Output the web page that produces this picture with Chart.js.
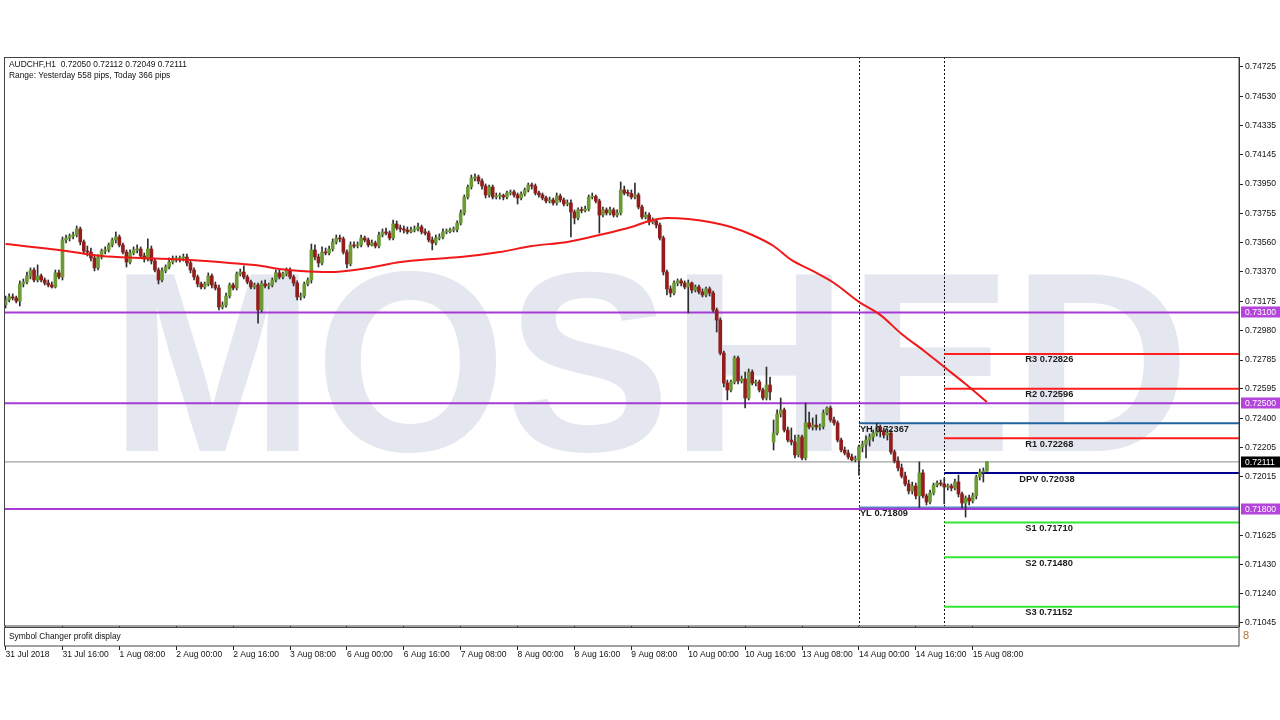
<!DOCTYPE html>
<html>
<head>
<meta charset="utf-8">
<title>AUDCHF,H1</title>
<script src="https://cdn.jsdelivr.net/npm/chart.js@4.4.1/dist/chart.umd.min.js"></script>
<style>
  html, body { margin: 0; padding: 0; background: #fff; }
  canvas { display: block; }
</style>
</head>
<body>
<canvas id="mt4Chart" width="1280" height="720"></canvas>
<script>
// AUDCHF H1, 31 Jul 2018 00:00 -> 15 Aug 2018 12:00 (one value per hourly bar)
const opens = [
  0.73150,0.73183,0.73203,0.73196,0.73176,0.73289,0.73302,0.73342,0.73381,0.73315,0.73342,0.73315,0.73295,0.73282,0.73269,0.73362,
  0.73335,0.73580,0.73593,0.73606,0.73613,0.73653,0.73567,0.73507,0.73500,0.73461,0.73395,0.73467,0.73507,0.73514,0.73547,0.73580,
  0.73600,0.73547,0.73500,0.73434,0.73494,0.73514,0.73520,0.73474,0.73454,0.73520,0.73441,0.73381,0.73315,0.73375,0.73401,0.73434,
  0.73454,0.73454,0.73461,0.73467,0.73428,0.73381,0.73335,0.73289,0.73269,0.73289,0.73342,0.73282,0.73262,0.73136,0.73150,0.73209,
  0.73282,0.73262,0.73355,0.73368,0.73335,0.73302,0.73269,0.73282,0.73117,0.73289,0.73276,0.73282,0.73315,0.73362,0.73335,0.73355,
  0.73381,0.73335,0.73295,0.73203,0.73209,0.73289,0.73315,0.73514,0.73467,0.73428,0.73500,0.73494,0.73520,0.73567,0.73593,0.73587,
  0.73500,0.73421,0.73547,0.73540,0.73547,0.73593,0.73580,0.73547,0.73560,0.73540,0.73613,0.73633,0.73626,0.73593,0.73686,0.73659,
  0.73653,0.73646,0.73633,0.73646,0.73653,0.73666,0.73633,0.73626,0.73580,0.73560,0.73593,0.73600,0.73633,0.73636,0.73646,0.73650,
  0.73692,0.73759,0.73864,0.73931,0.73990,0.73997,0.73970,0.73937,0.73878,0.73931,0.73864,0.73871,0.73875,0.73864,0.73891,0.73898,
  0.73878,0.73858,0.73884,0.73911,0.73944,0.73937,0.73891,0.73878,0.73858,0.73838,0.73845,0.73825,0.73871,0.73845,0.73818,0.73825,
  0.73765,0.73726,0.73779,0.73775,0.73785,0.73864,0.73868,0.73838,0.73745,0.73779,0.73759,0.73779,0.73745,0.73759,0.73911,0.73891,
  0.73888,0.73864,0.73878,0.73798,0.73732,0.73745,0.73699,0.73706,0.73679,0.73593,0.73368,0.73256,0.73229,0.73295,0.73309,0.73295,
  0.73269,0.73295,0.73249,0.73269,0.73236,0.73216,0.73256,0.73229,0.73117,0.73050,0.72832,0.72633,0.72587,0.72640,0.72799,0.72647,
  0.72660,0.72534,0.72706,0.72633,0.72640,0.72587,0.72534,0.72620,0.72243,0.72302,0.72428,0.72455,0.72322,0.72256,0.72243,0.72157,
  0.72276,0.72137,0.72369,0.72342,0.72355,0.72342,0.72345,0.72435,0.72468,0.72389,0.72369,0.72256,0.72190,0.72170,0.72144,0.72124,
  0.72124,0.72210,0.72229,0.72256,0.72276,0.72302,0.72342,0.72316,0.72289,0.72302,0.72177,0.72117,0.72071,0.72018,0.71965,0.71919,
  0.71952,0.71886,0.72038,0.71886,0.71846,0.71905,0.71958,0.71971,0.71965,0.71945,0.71952,0.71938,0.71978,0.71899,0.71839,0.71872,
  0.71852,0.71886,0.72011,0.72044,0.72050
];
const highs = [
  0.73209,0.73223,0.73223,0.73209,0.73309,0.73322,0.73368,0.73395,0.73395,0.73415,0.73355,0.73329,0.73315,0.73302,0.73381,0.73381,
  0.73600,0.73613,0.73620,0.73633,0.73673,0.73666,0.73580,0.73540,0.73527,0.73481,0.73481,0.73520,0.73534,0.73560,0.73593,0.73633,
  0.73613,0.73560,0.73514,0.73514,0.73534,0.73547,0.73534,0.73494,0.73587,0.73540,0.73454,0.73395,0.73395,0.73415,0.73461,0.73474,
  0.73474,0.73474,0.73487,0.73487,0.73441,0.73395,0.73348,0.73302,0.73302,0.73362,0.73355,0.73302,0.73282,0.73170,0.73229,0.73295,
  0.73295,0.73368,0.73388,0.73408,0.73348,0.73315,0.73295,0.73295,0.73309,0.73315,0.73295,0.73329,0.73381,0.73381,0.73368,0.73395,
  0.73395,0.73348,0.73309,0.73229,0.73302,0.73329,0.73553,0.73547,0.73487,0.73534,0.73527,0.73540,0.73587,0.73613,0.73613,0.73600,
  0.73514,0.73567,0.73567,0.73567,0.73613,0.73606,0.73593,0.73580,0.73573,0.73633,0.73653,0.73659,0.73640,0.73712,0.73706,0.73679,
  0.73673,0.73666,0.73666,0.73673,0.73692,0.73679,0.73653,0.73640,0.73600,0.73613,0.73620,0.73653,0.73653,0.73659,0.73666,0.73706,
  0.73779,0.73878,0.73944,0.74010,0.74017,0.74010,0.73984,0.73951,0.73944,0.73944,0.73891,0.73891,0.73884,0.73904,0.73911,0.73911,
  0.73891,0.73898,0.73924,0.73957,0.73957,0.73951,0.73904,0.73891,0.73871,0.73864,0.73858,0.73891,0.73884,0.73858,0.73845,0.73845,
  0.73779,0.73792,0.73798,0.73805,0.73878,0.73891,0.73878,0.73851,0.73798,0.73792,0.73798,0.73792,0.73779,0.73964,0.73937,0.73911,
  0.73911,0.73957,0.73891,0.73811,0.73765,0.73759,0.73726,0.73719,0.73692,0.73606,0.73381,0.73276,0.73309,0.73322,0.73322,0.73309,
  0.73315,0.73302,0.73282,0.73282,0.73256,0.73269,0.73269,0.73242,0.73130,0.73064,0.72845,0.72653,0.72653,0.72812,0.72812,0.72680,
  0.72706,0.72726,0.72720,0.72653,0.72653,0.72600,0.72739,0.72673,0.72389,0.72455,0.72534,0.72468,0.72342,0.72336,0.72289,0.72289,
  0.72289,0.72501,0.72441,0.72402,0.72422,0.72362,0.72455,0.72475,0.72481,0.72408,0.72382,0.72269,0.72210,0.72190,0.72163,0.72150,
  0.72223,0.72249,0.72283,0.72296,0.72322,0.72367,0.72355,0.72336,0.72329,0.72322,0.72190,0.72144,0.72097,0.72044,0.71991,0.71978,
  0.71971,0.72111,0.72058,0.71899,0.71925,0.71971,0.71985,0.71991,0.72005,0.71965,0.71965,0.71998,0.72024,0.71912,0.71886,0.71892,
  0.71905,0.72024,0.72064,0.72071,0.72112
];
const lows = [
  0.73130,0.73170,0.73183,0.73163,0.73143,0.73269,0.73289,0.73322,0.73302,0.73302,0.73302,0.73282,0.73269,0.73262,0.73262,0.73322,
  0.73315,0.73560,0.73573,0.73587,0.73600,0.73547,0.73487,0.73474,0.73441,0.73375,0.73381,0.73454,0.73487,0.73500,0.73534,0.73560,
  0.73534,0.73487,0.73401,0.73421,0.73481,0.73494,0.73461,0.73434,0.73441,0.73421,0.73368,0.73289,0.73302,0.73362,0.73388,0.73421,
  0.73434,0.73434,0.73441,0.73408,0.73362,0.73315,0.73269,0.73256,0.73256,0.73276,0.73262,0.73249,0.73117,0.73123,0.73136,0.73196,
  0.73249,0.73249,0.73342,0.73322,0.73289,0.73256,0.73256,0.73030,0.73103,0.73262,0.73256,0.73269,0.73302,0.73322,0.73322,0.73342,
  0.73322,0.73276,0.73183,0.73183,0.73196,0.73276,0.73295,0.73448,0.73401,0.73415,0.73481,0.73481,0.73507,0.73553,0.73567,0.73487,
  0.73395,0.73408,0.73527,0.73527,0.73534,0.73567,0.73534,0.73540,0.73527,0.73527,0.73600,0.73613,0.73580,0.73580,0.73646,0.73633,
  0.73626,0.73620,0.73626,0.73633,0.73640,0.73620,0.73613,0.73567,0.73514,0.73547,0.73580,0.73587,0.73620,0.73626,0.73633,0.73633,
  0.73679,0.73745,0.73851,0.73917,0.73970,0.73951,0.73917,0.73858,0.73864,0.73851,0.73851,0.73851,0.73845,0.73851,0.73878,0.73864,
  0.73818,0.73845,0.73871,0.73898,0.73917,0.73878,0.73864,0.73845,0.73825,0.73825,0.73811,0.73811,0.73831,0.73805,0.73805,0.73600,
  0.73686,0.73712,0.73759,0.73765,0.73772,0.73851,0.73825,0.73626,0.73732,0.73745,0.73745,0.73732,0.73732,0.73745,0.73878,0.73871,
  0.73851,0.73851,0.73785,0.73719,0.73719,0.73679,0.73686,0.73659,0.73580,0.73348,0.73216,0.73203,0.73216,0.73276,0.73276,0.73256,
  0.73097,0.73229,0.73236,0.73223,0.73203,0.73203,0.73209,0.73103,0.72971,0.72819,0.72607,0.72521,0.72574,0.72627,0.72627,0.72633,
  0.72468,0.72521,0.72620,0.72614,0.72574,0.72521,0.72521,0.72521,0.72190,0.72289,0.72408,0.72309,0.72243,0.72223,0.72137,0.72144,
  0.72124,0.72124,0.72329,0.72322,0.72322,0.72322,0.72329,0.72422,0.72375,0.72355,0.72243,0.72177,0.72157,0.72130,0.72117,0.72111,
  0.72024,0.72177,0.72137,0.72216,0.72249,0.72283,0.72276,0.72269,0.72256,0.72163,0.72104,0.72051,0.72005,0.71952,0.71899,0.71899,
  0.71866,0.71809,0.71872,0.71826,0.71833,0.71892,0.71945,0.71952,0.71833,0.71925,0.71919,0.71925,0.71879,0.71806,0.71746,0.71826,
  0.71839,0.71866,0.71991,0.71978,0.72049
];
const closes = [
  0.73183,0.73203,0.73196,0.73176,0.73289,0.73302,0.73342,0.73381,0.73315,0.73342,0.73315,0.73295,0.73282,0.73269,0.73362,0.73335,
  0.73580,0.73593,0.73606,0.73613,0.73653,0.73567,0.73507,0.73500,0.73461,0.73395,0.73467,0.73507,0.73514,0.73547,0.73580,0.73600,
  0.73547,0.73500,0.73434,0.73494,0.73514,0.73520,0.73474,0.73454,0.73520,0.73441,0.73381,0.73315,0.73375,0.73401,0.73434,0.73454,
  0.73456,0.73461,0.73467,0.73428,0.73381,0.73335,0.73289,0.73269,0.73289,0.73342,0.73282,0.73262,0.73136,0.73150,0.73209,0.73282,
  0.73262,0.73355,0.73368,0.73335,0.73302,0.73269,0.73282,0.73117,0.73289,0.73276,0.73282,0.73315,0.73362,0.73335,0.73355,0.73381,
  0.73335,0.73295,0.73203,0.73209,0.73289,0.73315,0.73514,0.73467,0.73428,0.73500,0.73494,0.73520,0.73567,0.73593,0.73587,0.73500,
  0.73421,0.73547,0.73540,0.73547,0.73593,0.73580,0.73547,0.73560,0.73540,0.73613,0.73633,0.73626,0.73593,0.73686,0.73659,0.73653,
  0.73646,0.73633,0.73646,0.73653,0.73666,0.73633,0.73626,0.73580,0.73560,0.73593,0.73600,0.73633,0.73636,0.73646,0.73650,0.73692,
  0.73759,0.73864,0.73931,0.73990,0.73997,0.73970,0.73937,0.73878,0.73931,0.73864,0.73871,0.73875,0.73864,0.73891,0.73898,0.73878,
  0.73858,0.73884,0.73911,0.73944,0.73937,0.73891,0.73878,0.73858,0.73838,0.73845,0.73825,0.73871,0.73845,0.73818,0.73825,0.73765,
  0.73726,0.73779,0.73775,0.73785,0.73864,0.73868,0.73838,0.73745,0.73779,0.73759,0.73779,0.73745,0.73759,0.73911,0.73891,0.73888,
  0.73864,0.73878,0.73798,0.73732,0.73745,0.73699,0.73706,0.73679,0.73593,0.73368,0.73256,0.73229,0.73295,0.73309,0.73295,0.73269,
  0.73295,0.73249,0.73269,0.73236,0.73216,0.73256,0.73229,0.73117,0.73050,0.72832,0.72633,0.72587,0.72640,0.72799,0.72647,0.72660,
  0.72534,0.72706,0.72633,0.72640,0.72587,0.72534,0.72620,0.72574,0.72302,0.72428,0.72455,0.72322,0.72256,0.72243,0.72157,0.72276,
  0.72137,0.72369,0.72342,0.72355,0.72342,0.72345,0.72435,0.72468,0.72389,0.72369,0.72256,0.72190,0.72170,0.72144,0.72124,0.72130,
  0.72210,0.72229,0.72256,0.72276,0.72302,0.72342,0.72316,0.72289,0.72302,0.72177,0.72117,0.72071,0.72018,0.71965,0.71919,0.71952,
  0.71886,0.72038,0.71886,0.71846,0.71905,0.71958,0.71971,0.71965,0.71945,0.71952,0.71938,0.71978,0.71899,0.71839,0.71872,0.71852,
  0.71886,0.72011,0.72044,0.72050,0.72111
];

// red moving average, read at a few bars
const maBars   = [0, 15, 27, 38, 52, 63, 72, 77, 83, 91, 102, 111, 120, 128, 139, 148, 158, 167, 176, 181, 186,
                  192, 198, 204, 210, 216, 221, 227, 233, 240, 246, 252, 258, 264, 270, 276];
const maValues = [0.73553,0.73514,0.73474,0.73461,0.73448,0.73428,0.73408,0.73388,0.73375,0.73368,0.73395,0.73434,
                  0.73454,0.73467,0.73500,0.73540,0.73567,0.73613,0.73666,0.73706,0.73726,0.73719,0.73699,0.73666,
                  0.73613,0.73540,0.73448,0.73375,0.73295,0.73170,0.73084,0.72958,0.72852,0.72739,0.72627,0.72508];

const xTickBars = [0, 16, 32, 48, 64, 80, 96, 112, 128, 144, 160, 176, 192, 208, 224, 240, 256, 272];
const xTickLabels = ['31 Jul 2018', '31 Jul 16:00', '1 Aug 08:00', '2 Aug 00:00', '2 Aug 16:00', '3 Aug 08:00',
                     '6 Aug 00:00', '6 Aug 16:00', '7 Aug 08:00', '8 Aug 00:00', '8 Aug 16:00', '9 Aug 08:00',
                     '10 Aug 00:00', '10 Aug 16:00', '13 Aug 08:00', '14 Aug 00:00', '14 Aug 16:00', '15 Aug 08:00'];
const yTicks = [0.74725, 0.74530, 0.74335, 0.74145, 0.73950, 0.73755, 0.73560, 0.73370, 0.73175, 0.72980,
                0.72785, 0.72595, 0.72400, 0.72205, 0.72015, 0.71625, 0.71430, 0.71240, 0.71045];

const pivotNames  = ['R3', 'R2', 'R1', 'DPV', 'S1', 'S2', 'S3'];
const pivotValues = [0.72826, 0.72596, 0.72268, 0.72038, 0.71710, 0.71480, 0.71152];
const dayNames    = ['YH', 'YL'];
const dayValues   = [0.72367, 0.71809];
const roundLevels = [0.73100, 0.72500, 0.71800];
const lastPrice   = 0.72111;
const separatorBars = [240, 264];   // 14 Aug 00:00, 15 Aug 00:00

const headerLines = ['AUDCHF,H1  0.72050 0.72112 0.72049 0.72111', 'Range: Yesterday 558 pips, Today 366 pips'];
const subWindowTitle = 'Symbol Changer profit display';
const watermark = 'MOSHED';

(function (window) {
    'use strict';

    const Chart = window.Chart;
    if (!Chart) {
        console.error('[mt4] Chart.js missing');
        return;
    }

    const FONT = '"Liberation Sans", Arial, sans-serif';
    const X_MIN = -0.45;
    const X_MAX = 346.9;
    const BULL = '#6c9a34';
    const BEAR = '#931d1d';
    const WICK = '#2e2e2e';
    const PURPLE = '#a63ad6';
    const RED = '#ff1e1e';
    const GREEN = '#33e633';
    const NAVY = '#00008c';
    const STEEL = '#21639e';
    const pivotColors = [RED, RED, RED, NAVY, GREEN, GREEN, GREEN];

    function level(fromX, value, color, width, order) {
        return {
            type: 'line',
            data: [{ x: fromX, y: value }, { x: X_MAX, y: value }],
            borderColor: color,
            borderWidth: width,
            pointRadius: 0,
            tension: 0,
            order: order,
        };
    }

    const barIdx = closes.map(function (c, i) { return i; });

    const datasets = [];
    datasets.push(level(X_MIN, lastPrice, '#8a8a8a', 1, 9));
    datasets.push(level(separatorBars[0], dayValues[0], STEEL, 2, 8));
    datasets.push(level(separatorBars[0], dayValues[1], '#5a86c4', 2, 8));
    roundLevels.forEach(function (v) { datasets.push(level(X_MIN, v, PURPLE, 2, 7)); });
    pivotValues.forEach(function (v, i) { datasets.push(level(separatorBars[1], v, pivotColors[i], 2, 7)); });

    datasets.push({
        type: 'bar',
        data: barIdx.map(function (i) { return { x: i, y: [lows[i], highs[i]] }; }),
        backgroundColor: WICK,
        barThickness: 1,
        grouped: false,
        order: 5,
    });
    datasets.push({
        type: 'bar',
        data: barIdx.map(function (i) { return { x: i, y: [opens[i], closes[i]] }; }),
        backgroundColor: barIdx.map(function (i) { return closes[i] >= opens[i] ? BULL : BEAR; }),
        barThickness: 3,
        minBarLength: 1,
        grouped: false,
        order: 4,
    });
    datasets.push({
        type: 'line',
        data: maBars.map(function (b, i) { return { x: b, y: maValues[i] }; }),
        borderColor: '#f01818',
        borderWidth: 2,
        pointRadius: 0,
        cubicInterpolationMode: 'monotone',
        order: 1,
    });

    const overlay = {
        id: 'mt4Overlay',
        beforeDatasetsDraw: function (chart) {
            const ctx = chart.ctx;
            const a = chart.chartArea;
            const xs = chart.scales.x;
            ctx.save();
            ctx.beginPath();
            ctx.rect(a.left, a.top, a.right - a.left, a.bottom - a.top);
            ctx.clip();
            ctx.fillStyle = '#e4e7ef';
            ctx.font = 'bold 256px ' + FONT;
            ctx.textAlign = 'center';
            ctx.textBaseline = 'alphabetic';
            ctx.fillText(watermark, 650, 451, 1080);

            ctx.strokeStyle = '#111';
            ctx.lineWidth = 1;
            ctx.setLineDash([2, 2]);
            separatorBars.forEach(function (b) {
                const px = Math.round(xs.getPixelForValue(b)) + 0.5;
                ctx.beginPath();
                ctx.moveTo(px, a.top);
                ctx.lineTo(px, a.bottom);
                ctx.stroke();
            });
            ctx.restore();
        },
        afterDatasetsDraw: function (chart) {
            const ctx = chart.ctx;
            const xs = chart.scales.x;
            const ys = chart.scales.y;
            ctx.save();
            ctx.fillStyle = '#1b1b1b';
            ctx.font = 'bold 9.3px ' + FONT;
            ctx.textAlign = 'left';
            ctx.textBaseline = 'middle';
            const pivotX = xs.getPixelForValue(separatorBars[1]);
            pivotNames.forEach(function (name, i) {
                const dx = name === 'DPV' ? 75 : 81;
                ctx.fillText(name + ' ' + pivotValues[i].toFixed(5), pivotX + dx, ys.getPixelForValue(pivotValues[i]) + 6);
            });
            const dayX = xs.getPixelForValue(separatorBars[0]);
            dayNames.forEach(function (name, i) {
                ctx.fillText(name + ' ' + dayValues[i].toFixed(5), dayX + 1, ys.getPixelForValue(dayValues[i]) + 6);
            });
            ctx.restore();
        },
        afterDraw: function (chart) {
            const ctx = chart.ctx;
            const a = chart.chartArea;
            const ys = chart.scales.y;
            ctx.save();

            // sub-window under the price chart
            ctx.fillStyle = '#fff';
            ctx.fillRect(a.left, a.bottom + 1, a.right - a.left, 19);
            ctx.strokeStyle = '#444';
            ctx.lineWidth = 1;
            ctx.strokeRect(a.left + 0.5, a.bottom + 1.5, a.right - a.left - 0.5, 18.5);
            ctx.strokeRect(a.left + 0.5, a.top + 0.5, a.right - a.left - 0.5, a.bottom - a.top - 0.5);

            ctx.fillStyle = '#111';
            ctx.font = '8.4px ' + FONT;
            ctx.textAlign = 'left';
            ctx.textBaseline = 'middle';
            ctx.fillText(subWindowTitle, a.left + 5, a.bottom + 10.5);
            ctx.fillText(headerLines[0], a.left + 5, a.top + 7.5);
            ctx.fillText(headerLines[1], a.left + 5, a.top + 18.5);

            // price tags on the axis
            function tag(value, bg) {
                const py = ys.getPixelForValue(value);
                ctx.fillStyle = bg;
                ctx.fillRect(a.right + 2, Math.round(py) - 5.5, 39, 11);
                ctx.fillStyle = '#fff';
                ctx.font = '8.6px ' + FONT;
                ctx.fillText(value.toFixed(5), a.right + 6, py + 0.5);
            }
            roundLevels.forEach(function (v) { tag(v, '#b444dc'); });
            tag(lastPrice, '#000');

            ctx.fillStyle = '#b8742c';
            ctx.font = '11px ' + FONT;
            ctx.fillText('8', a.right + 4, a.bottom + 10);
            ctx.restore();
        },
    };

    new Chart(document.getElementById('mt4Chart'), {
        type: 'bar',
        data: { datasets: datasets },
        options: {
            responsive: false,
            animation: false,
            devicePixelRatio: 1,
            events: [],
            layout: { padding: { left: 4, top: 57, right: 0, bottom: 0 } },
            plugins: { legend: { display: false }, tooltip: { enabled: false } },
            scales: {
                x: {
                    type: 'linear',
                    min: X_MIN,
                    max: X_MAX,
                    offset: false,
                    grid: { drawOnChartArea: false, drawTicks: true, tickLength: 24, color: '#222', offset: false },
                    border: { display: false },
                    ticks: {
                        align: 'start',
                        padding: 0,
                        autoSkip: false,
                        maxRotation: 0,
                        minRotation: 0,
                        color: '#111',
                        font: { family: FONT, size: 8.5 },
                        callback: function (v, i) { return xTickLabels[i]; },
                    },
                    afterBuildTicks: function (s) { s.ticks = xTickBars.map(function (v) { return { value: v }; }); },
                    afterFit: function (s) { s.height = 94; },
                },
                y: {
                    type: 'linear',
                    position: 'right',
                    min: 0.71025,
                    max: 0.74791,
                    grid: { drawOnChartArea: false, drawTicks: true, tickLength: 4, color: '#222' },
                    border: { display: true, color: '#222' },
                    ticks: {
                        padding: 2,
                        autoSkip: false,
                        color: '#111',
                        font: { family: FONT, size: 8.6 },
                        callback: function (v) { return Number(v).toFixed(5); },
                    },
                    afterBuildTicks: function (s) { s.ticks = yTicks.map(function (v) { return { value: v }; }); },
                    afterFit: function (s) { s.width = 41; },
                },
            },
        },
        plugins: [overlay],
    });
})(window);
</script>
</body>
</html>
